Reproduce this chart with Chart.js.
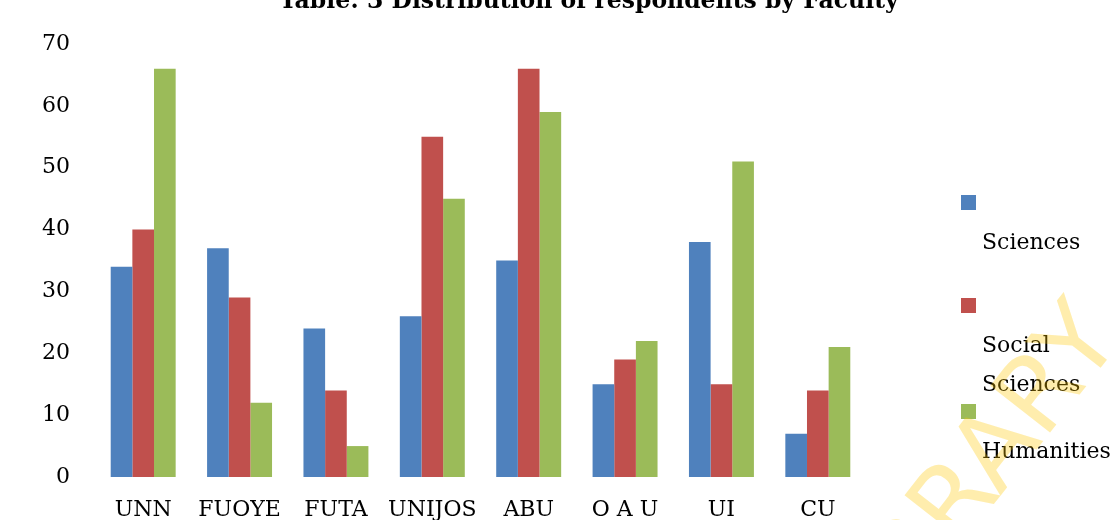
<!DOCTYPE html>
<html>
<head>
<meta charset="utf-8">
<script src="https://cdn.jsdelivr.net/npm/chart.js@4/dist/chart.umd.min.js"></script>
<style>
  html, body { margin: 0; padding: 0; background: #fff; overflow: hidden; }
  #wrap { position: relative; width: 1114px; height: 520px; }
</style>
</head>
<body>
<div id="wrap"><canvas id="chart" width="1114" height="520"></canvas></div>
<script>
const title = 'Table: 3 Distribution of respondents by Faculty';
const universities = ['UNN', 'FUOYE', 'FUTA', 'UNIJOS', 'ABU', 'O A U', 'UI', 'CU'];
const sciences = [34, 37, 24, 26, 35, 15, 38, 7];
const socialSciences = [40, 29, 14, 55, 66, 19, 15, 14];
const humanities = [66, 12, 5, 45, 59, 22, 51, 21];
const yTicks = [0, 10, 20, 30, 40, 50, 60, 70];

const serif = '"DejaVu Serif", "Liberation Serif", serif';

// word-style title, side legend and faint watermark, drawn by hand
const decorations = {
    id: 'decorations',
    afterDraw(chart) {
        const ctx = chart.ctx;
        ctx.save();

        ctx.fillStyle = '#000';
        ctx.font = 'bold 23.5px ' + serif;
        ctx.textAlign = 'center';
        ctx.textBaseline = 'alphabetic';
        ctx.fillText(title, 589, 8);

        const itemTops = [195, 298, 404];
        ctx.font = '22px ' + serif;
        ctx.textAlign = 'left';
        chart.data.datasets.forEach((ds, i) => {
            const top = itemTops[i];
            ctx.fillStyle = ds.backgroundColor;
            ctx.fillRect(961, top, 15, 15);
            ctx.fillStyle = '#000';
            const lines = [];
            let line = '';
            ds.label.split(' ').forEach(word => {
                const test = line ? line + ' ' + word : word;
                if (line && ctx.measureText(test).width > 125) {
                    lines.push(line);
                    line = word;
                } else {
                    line = test;
                }
            });
            lines.push(line);
            lines.forEach((txt, j) => ctx.fillText(txt, 982, top + 54 + j * 39));
        });

        ctx.translate(1102, 322);
        ctx.rotate(-52 * Math.PI / 180);
        ctx.font = '104px "DejaVu Sans", sans-serif';
        ctx.fillStyle = 'rgba(255, 200, 0, 0.32)';
        ctx.textAlign = 'right';
        ctx.textBaseline = 'middle';
        ctx.fillText('LIBRARY', 0, 0);

        ctx.restore();
    }
};

new Chart(document.getElementById('chart'), {
    type: 'bar',
    data: {
        labels: universities,
        datasets: [
            { label: 'Sciences', data: sciences, backgroundColor: '#4F81BD' },
            { label: 'Social Sciences', data: socialSciences, backgroundColor: '#C0504D' },
            { label: 'Humanities', data: humanities, backgroundColor: '#9BBB59' }
        ]
    },
    options: {
        responsive: false,
        animation: false,
        layout: { padding: { top: 44, right: 248, bottom: 0, left: 0 } },
        datasets: {
            bar: { categoryPercentage: 0.674, barPercentage: 1.0 }
        },
        plugins: {
            legend: { display: false },
            tooltip: { enabled: false }
        },
        scales: {
            x: {
                grid: { display: false, drawTicks: false },
                border: { display: false },
                ticks: {
                    color: '#000',
                    padding: 20,
                    maxRotation: 0,
                    font: { family: serif, size: 22 }
                },
                afterFit: scale => { scale.height = 43; }
            },
            y: {
                min: 0,
                max: 70,
                grid: { display: false, drawTicks: false },
                border: { display: false },
                afterBuildTicks: scale => { scale.ticks = yTicks.map(v => ({ value: v })); },
                ticks: {
                    color: '#000',
                    padding: 25,
                    font: { family: serif, size: 22 }
                },
                afterFit: scale => { scale.width = 95; }
            }
        }
    },
    plugins: [decorations]
});
</script>
</body>
</html>
